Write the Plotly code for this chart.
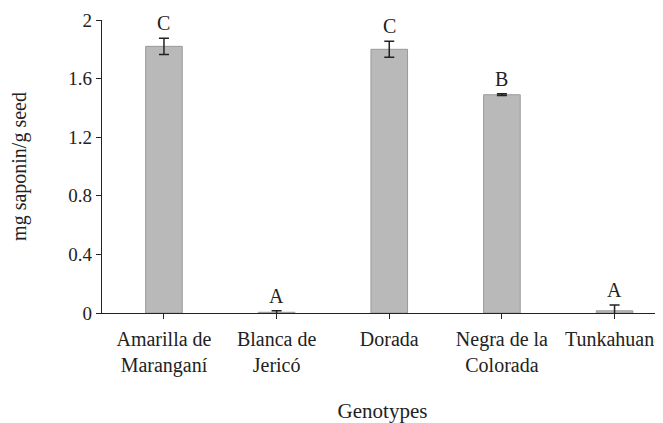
import plotly.graph_objects as go

genotypes = ["Amarilla de<br>Maranganí", "Blanca de<br>Jericó", "Dorada", "Negra de la<br>Colorada", "Tunkahuano"]
saponin = [1.82, 0.005, 1.80, 1.49, 0.015]
errors = [0.055, 0.01, 0.055, 0.006, 0.04]
letters = ["C", "A", "C", "B", "A"]
y_ticks = [0, 0.4, 0.8, 1.2, 1.6, 2]
y_ticklabels = ["0", "0.4", "0.8", "1.2", "1.6", "2"]

FONT = "Liberation Serif"
fig = go.Figure()
fig.add_trace(go.Bar(
    x=list(range(len(genotypes))), y=saponin,
    width=0.325,
    marker=dict(color="#b9b9b9", line=dict(color="#9a9a9a", width=1)),
    error_y=dict(type="data", array=errors, visible=True, color="#222222", thickness=1.5, width=5),
))
for i, (v, e, l) in enumerate(zip(saponin, errors, letters)):
    fig.add_annotation(x=i, y=v + e, text=l, showarrow=False, yanchor="bottom", yshift=2,
                       font=dict(family=FONT, size=20, color="#222222"))

fig.update_layout(
    width=655, height=415,
    margin=dict(l=94, r=0, t=12, b=110),
    plot_bgcolor="white", paper_bgcolor="white",
    showlegend=False,
    font=dict(family=FONT, size=20, color="#222222"),
    xaxis=dict(
        range=[-0.55, 4.43], tickmode="array", tickvals=list(range(len(genotypes))), ticktext=genotypes,
        showline=True, linecolor="#222222", linewidth=1.3, ticks="outside", ticklen=5, tickcolor="#222222",
        showgrid=False, zeroline=False, tickangle=0, automargin="bottom",
        ticklabeloverflow="allow", ticklabelstandoff=3,
        tickfont=dict(family=FONT, size=20),
        title=dict(text="Genotypes", standoff=31, font=dict(family=FONT, size=21)),
    ),
    yaxis=dict(
        range=[0, 2], tickmode="array", tickvals=y_ticks, ticktext=y_ticklabels,
        showline=True, linecolor="#222222", linewidth=1.3, ticks="outside", ticklen=5, tickcolor="#222222",
        showgrid=False, zeroline=False, automargin="left",
        tickfont=dict(family=FONT, size=19),
        title=dict(text="mg saponin/g seed", standoff=40, font=dict(family=FONT, size=20)),
    ),
)
fig.write_html("out.html")
